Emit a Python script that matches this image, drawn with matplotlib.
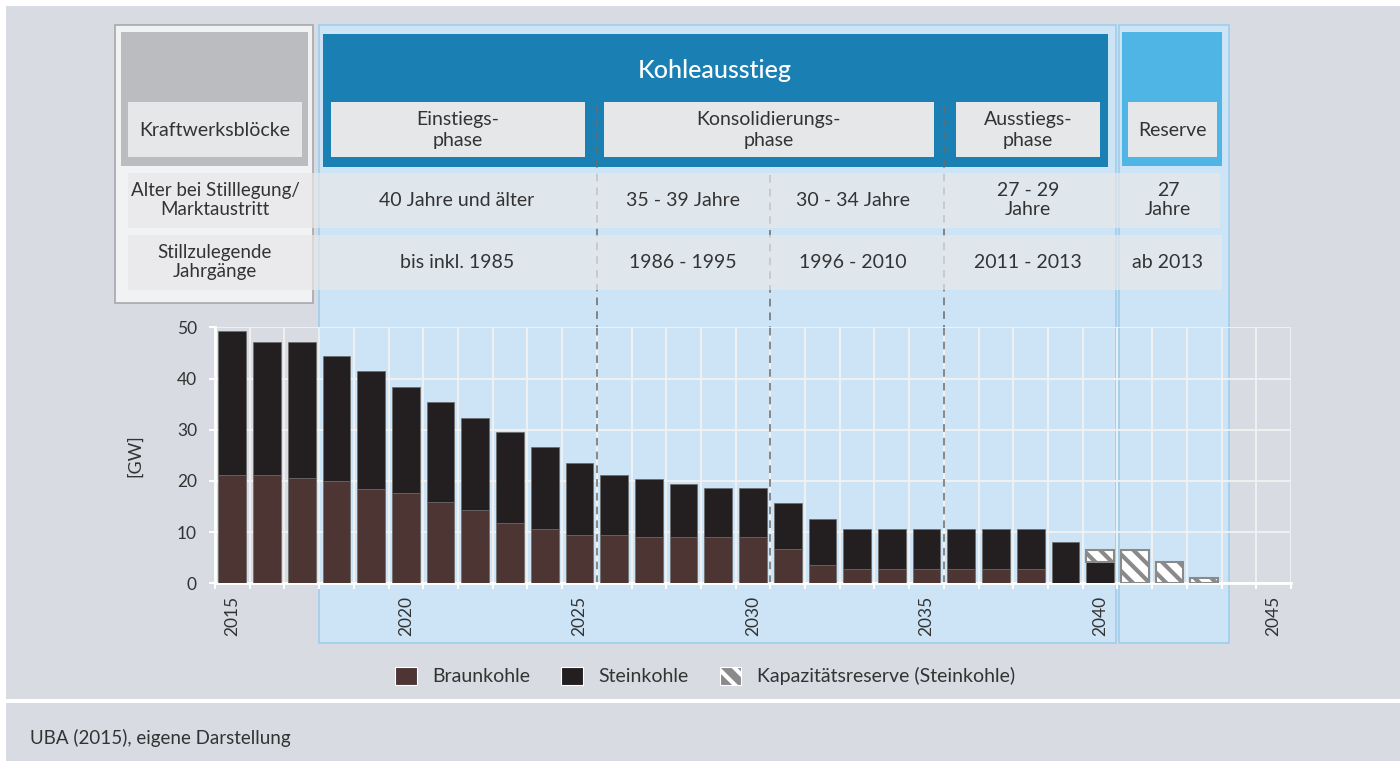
import numpy as np
import matplotlib
matplotlib.use("Agg")
import matplotlib.pyplot as plt
from matplotlib.patches import Rectangle, Patch
from matplotlib.transforms import blended_transform_factory

plt.rcParams['font.family'] = ['Lato', 'DejaVu Sans']
plt.rcParams['hatch.linewidth'] = 3.0

# Data (GW)
years = np.arange(2015, 2046)
braunkohle = np.array([21.2, 21.2, 20.6, 20.0, 18.4, 17.6, 15.9, 14.3, 11.8, 10.7,
                       9.4, 9.4, 9.0, 9.0, 9.0, 9.0, 6.7, 3.5, 2.7, 2.7,
                       2.7, 2.7, 2.7, 2.7, 0, 0, 0, 0, 0, 0, 0])
steinkohle = np.array([28.1, 26.0, 26.6, 24.4, 23.0, 20.8, 19.5, 18.1, 17.7, 15.9,
                       14.1, 11.7, 11.3, 10.5, 9.6, 9.6, 9.0, 9.1, 7.9, 7.9,
                       7.9, 7.9, 7.9, 7.9, 8.0, 4.1, 0, 0, 0, 0, 0])
reserve = np.array([0] * 25 + [2.4, 6.5, 4.1, 1.1, 0, 0])

tick_years = [2015, 2020, 2025, 2030, 2035, 2040, 2045]
phase_lines = [2025.5, 2030.5, 2035.5]
kohle_span = (2017.5, 2040.45)
reserve_span = (2040.55, 2043.7)

c_braun = '#4d3534'
c_stein = '#231f20'
c_hatch = '#8a8a8a'
c_text = '#333333'
c_bg = '#d8dbe2'
c_light_blue = '#cce4f5'

fig = plt.figure(figsize=(14, 7.61), dpi=100)
fig.patch.set_facecolor('white')

# full-figure pixel axes for the background and header table
bg = fig.add_axes([0, 0, 1, 1])
bg.set_xlim(0, 1400)
bg.set_ylim(761, 0)
bg.axis('off')
bg.set_zorder(0)


def box(x0, y0, x1, y1, **kw):
    bg.add_patch(Rectangle((x0, y0), x1 - x0, y1 - y0, **kw))


box(6, 6, 1400, 699, facecolor=c_bg, edgecolor='none')
box(6, 703, 1400, 761, facecolor=c_bg, edgecolor='none')

# chart axes
ax = fig.add_axes([215 / 1400, 1 - 583.3 / 761, 1076 / 1400, 255.8 / 761])
ax.set_zorder(1)
ax.patch.set_alpha(0)
ax.set_xlim(2014.5, 2045.5)
ax.set_ylim(0, 50)

tr = blended_transform_factory(ax.transData, bg.transData)

# light blue phase areas
bg.add_patch(Rectangle((kohle_span[0], 25), kohle_span[1] - kohle_span[0], 618,
                       transform=tr, facecolor=c_light_blue, edgecolor='#a3cfed', lw=1.3))
bg.add_patch(Rectangle((reserve_span[0], 25), reserve_span[1] - reserve_span[0], 618,
                       transform=tr, facecolor=c_light_blue, edgecolor='#a3cfed', lw=1.3))

# left column
box(115, 25, 313, 303, facecolor='#f1f2f4', edgecolor='#a5a7ab', lw=1.2)
box(121, 32, 308, 166, facecolor='#bbbcc0', edgecolor='none')

# headers
box(323, 34, 1108, 167, facecolor='#1a80b4', edgecolor='none')
box(1122, 32, 1222, 166, facecolor='#4fb5e5', edgecolor='none')

# dashed phase separators (header part here, chart part in ax)
for x, y_top in zip(phase_lines, [105, 175, 105]):
    bg.plot([x, x], [y_top, 330], transform=tr, color='#6a6a6a', lw=1.1,
            ls=(0, (5, 4)), zorder=3)
ax.vlines(phase_lines, 0, 50, color='#6a6a6a', lw=1.1, linestyles=(0, (5, 4)), zorder=2)

label_boxes = [(128, 302), (331, 585), (604, 934), (956, 1100), (1128, 1217)]
for x0, x1 in label_boxes:
    box(x0, 102, x1, 157, facecolor='#e6e7e9', edgecolor='none', zorder=4)

# semi transparent table rows
box(128, 173, 1220, 228, facecolor='#e8e8e9', edgecolor='none', alpha=0.7, zorder=5)
box(128, 235, 1222, 290, facecolor='#e8e8e9', edgecolor='none', alpha=0.7, zorder=5)

fs = 14
bg.text(715, 70, 'Kohleausstieg', color='white', fontsize=18, fontweight='medium',
        ha='center', va='center')
header_labels = ['Kraftwerksblöcke', 'Einstiegs-\nphase', 'Konsolidierungs-\nphase',
                 'Ausstiegs-\nphase', 'Reserve']
for (x0, x1), t in zip(label_boxes, header_labels):
    bg.text((x0 + x1) / 2, 130, t, fontsize=fs, color=c_text, ha='center',
            va='center', linespacing=1.3, zorder=6)

row_x = [215, 457, 683, 853, 1028, 1168]
row1 = ['Alter bei Stilllegung/\nMarktaustritt', '40 Jahre und älter', '35 - 39 Jahre',
        '30 - 34 Jahre', '27 - 29\nJahre', '27\nJahre']
row2 = ['Stillzulegende\nJahrgänge', 'bis inkl. 1985', '1986 - 1995', '1996 - 2010',
        '2011 - 2013', 'ab 2013']
for i, (x, t) in enumerate(zip(row_x, row1)):
    bg.text(x, 200, t, fontsize=13.5 if i == 0 else fs, color=c_text, ha='center',
            va='center', linespacing=1.2, zorder=6)
for i, (x, t) in enumerate(zip(row_x, row2)):
    bg.text(x, 262, t, fontsize=13.5 if i == 0 else fs, color=c_text, ha='center',
            va='center', linespacing=1.2, zorder=6)

# bars
w = 0.8
m = braunkohle > 0
ax.bar(years[m], braunkohle[m], w, color=c_braun, edgecolor='#6b6b6b', lw=0.5, zorder=3)
m = steinkohle > 0
ax.bar(years[m], steinkohle[m], w, bottom=braunkohle[m], color=c_stein,
       edgecolor='#6b6b6b', lw=0.5, zorder=3)
m = reserve > 0
ax.bar(years[m], reserve[m], w, bottom=(braunkohle + steinkohle)[m], color='white',
       edgecolor=c_hatch, hatch='\\\\', lw=1.5, zorder=3)

# axes styling
ax.set_yticks([0, 10, 20, 30, 40, 50])
ax.set_xticks(tick_years)
ax.set_xticklabels([str(y) for y in tick_years], rotation=90)
ax.set_xticks(np.arange(2014.5, 2046, 1), minor=True)
ax.tick_params(axis='x', which='major', length=0, pad=9, labelsize=12.5, labelcolor=c_text)
ax.tick_params(axis='x', which='minor', length=4, width=1.5, color='white', direction='out')
ax.tick_params(axis='y', length=4, width=1.5, color='white', pad=9, labelsize=12.5,
               labelcolor=c_text)
ax.grid(axis='y', color='#f2f2f2', lw=1.3)
ax.grid(axis='x', which='minor', color='#f2f2f2', lw=1.3)
ax.set_axisbelow(True)
for s in ['top', 'right']:
    ax.spines[s].set_visible(False)
for s in ['left', 'bottom']:
    ax.spines[s].set_color('white')
    ax.spines[s].set_linewidth(2)
ax.set_ylabel('[GW]', fontsize=13, color=c_text)
ax.yaxis.set_label_coords(-0.067, 0.5)

# legend
handles = [Patch(facecolor=c_braun, edgecolor='white', lw=0.8, label='Braunkohle'),
           Patch(facecolor=c_stein, edgecolor='white', lw=0.8, label='Steinkohle'),
           Patch(facecolor=c_hatch, edgecolor='white', hatch='\\\\', lw=0.8,
                 label='Kapazitätsreserve (Steinkohle)')]
fig.legend(handles=handles, loc='center', bbox_to_anchor=(705 / 1400, 1 - 676 / 761),
           ncol=3, frameon=False, fontsize=14, handlelength=1.1, handleheight=1.1,
           handletextpad=0.8, columnspacing=1.6, labelcolor=c_text)

bg.text(30, 738, 'UBA (2015), eigene Darstellung', fontsize=13.5, color=c_text,
        ha='left', va='center')

fig.savefig('out.png', dpi=100, facecolor=fig.get_facecolor())
